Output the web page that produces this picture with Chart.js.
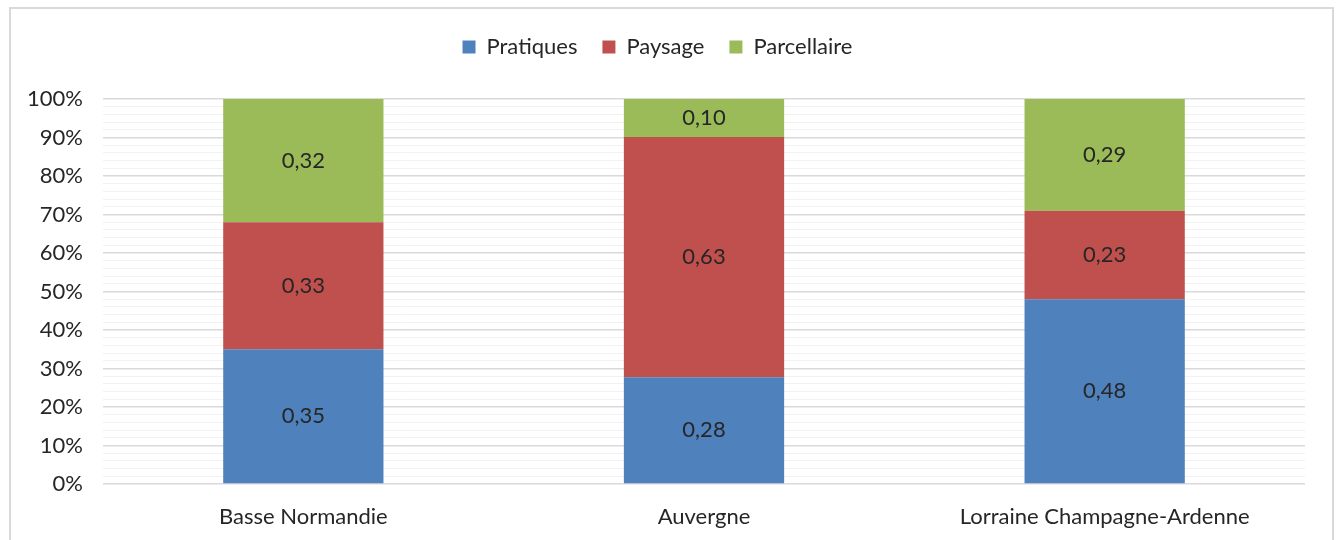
<!DOCTYPE html>
<html>
<head>
<meta charset="utf-8">
<script src="https://cdn.jsdelivr.net/npm/chart.js@4.4.1/dist/chart.umd.min.js"></script>
<style>
  html, body { margin: 0; padding: 0; background: #fff; overflow: hidden; }
  #wrap { position: absolute; left: 0; top: 0; width: 1340px; height: 540px; }
  #frame { position: absolute; left: 9px; top: 7px; width: 1321px; height: 560px; border: 2px solid #d9d9d9; pointer-events: none; }
</style>
</head>
<body>
<div id="wrap"><canvas id="chart" width="1340" height="540"></canvas></div>
<div id="frame"></div>
<script>
const categories = ["Basse Normandie", "Auvergne", "Lorraine Champagne-Ardenne"];
const seriesNames = ["Pratiques", "Paysage", "Parcellaire"];
const pratiques = [0.35, 0.28, 0.48];
const paysage = [0.33, 0.63, 0.23];
const parcellaire = [0.32, 0.10, 0.29];
const colors = ["#4f81bd", "#c0504d", "#9bbb59"];

const rawSeries = [pratiques, paysage, parcellaire];
// 100% stacked: each category scaled to its own total
const totals = categories.map((c, i) => rawSeries.reduce((s, arr) => s + arr[i], 0));

const fontFamily = "Lato, 'Open Sans', sans-serif";
const fontSize = 22;

const barLabels = {
    id: "barLabels",
    afterDatasetsDraw(chart) {
        const ctx = chart.ctx;
        ctx.save();
        ctx.font = fontSize + "px " + fontFamily;
        ctx.fillStyle = "#262626";
        ctx.textAlign = "center";
        ctx.textBaseline = "middle";
        chart.data.datasets.forEach((ds, di) => {
            chart.getDatasetMeta(di).data.forEach((bar, i) => {
                const p = bar.getCenterPoint();
                ctx.fillText(ds.raw[i].toFixed(2).replace(".", ","), p.x, p.y);
            });
        });
        ctx.restore();
    }
};

// fixed legend block height so the plot starts where it should
const legendHeight = {
    id: "legendHeight",
    beforeInit(chart) {
        const fit = chart.legend.fit;
        chart.legend.fit = function () {
            fit.bind(chart.legend)();
            this.height = 88;
        };
    }
};

new Chart(document.getElementById("chart"), {
    type: "bar",
    data: {
        labels: categories,
        datasets: seriesNames.map((name, k) => ({
            label: name,
            raw: rawSeries[k],
            data: rawSeries[k].map((v, i) => v / totals[i] * 100),
            backgroundColor: colors[k],
            barPercentage: 0.4,
            categoryPercentage: 1
        }))
    },
    options: {
        responsive: false,
        animation: false,
        layout: { padding: { left: 10, right: 35, top: 11, bottom: 0 } },
        plugins: {
            legend: {
                position: "top",
                labels: {
                    boxWidth: 13,
                    boxHeight: 13,
                    padding: 25,
                    color: "#262626",
                    font: { family: fontFamily, size: fontSize }
                }
            },
            tooltip: { enabled: false }
        },
        scales: {
            x: {
                stacked: true,
                grid: { display: false },
                border: { display: false },
                ticks: { color: "#262626", padding: 12, font: { family: fontFamily, size: fontSize } },
                afterFit: s => { s.height = 56; }
            },
            y: {
                stacked: true,
                min: 0,
                max: 100,
                afterFit: s => { s.width = 93; },
                border: { display: false },
                grid: {
                    drawTicks: false,
                    color: c => (c.tick.value % 10 === 0 ? "#d9d9d9" : "#f2f2f2"),
                    lineWidth: c => (c.tick.value % 10 === 0 ? 1.5 : 1)
                },
                ticks: {
                    stepSize: 2,
                    autoSkip: false,
                    padding: 20,
                    color: "#262626",
                    font: { family: fontFamily, size: fontSize },
                    callback: v => (v % 10 === 0 ? v + "%" : "")
                }
            }
        }
    },
    plugins: [barLabels, legendHeight]
});
</script>
</body>
</html>
